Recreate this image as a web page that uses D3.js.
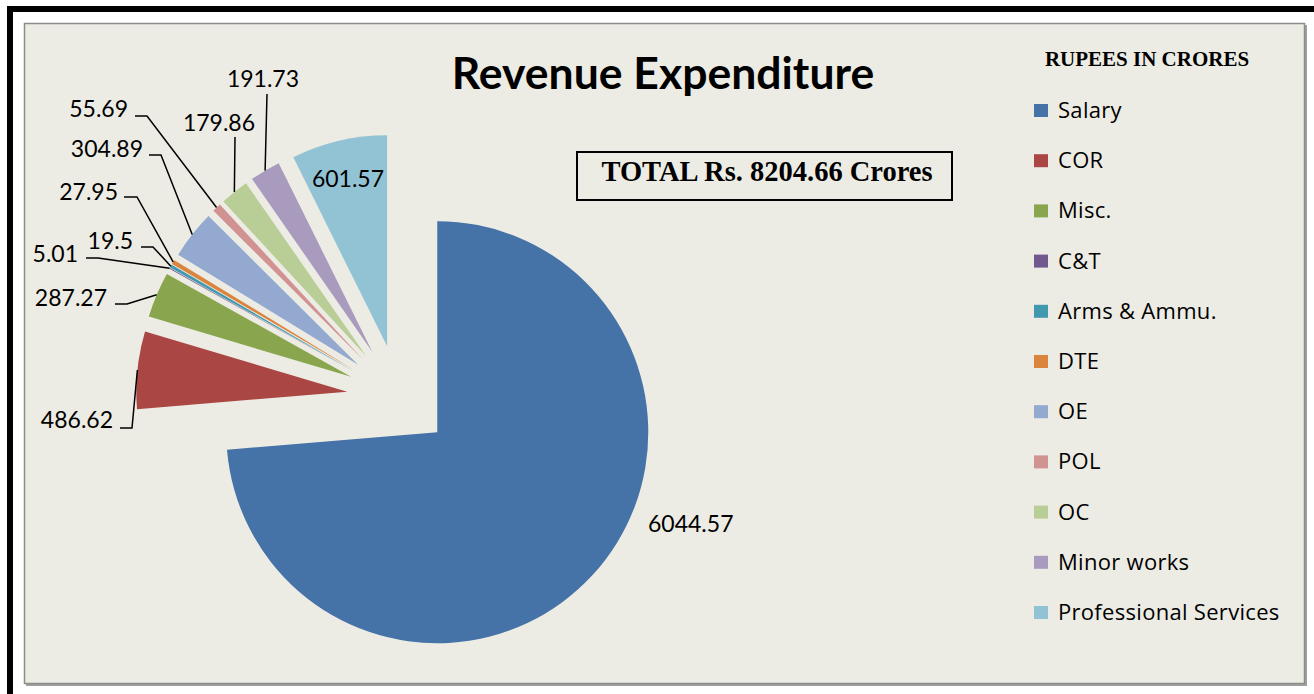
<!DOCTYPE html>
<html>
<head>
<meta charset="utf-8">
<script src="https://cdn.jsdelivr.net/npm/d3@7"></script>
<style>
  html, body { margin: 0; padding: 0; background: #ffffff; }
  svg { display: block; }
</style>
</head>
<body>
<svg id="chart" width="1314" height="694"></svg>
<script>
// ---- data ----
const categories = ["Salary", "COR", "Misc.", "C&T", "Arms & Ammu.", "DTE", "OE", "POL", "OC", "Minor works", "Professional Services"];
const values = [6044.57, 486.62, 287.27, 5.01, 19.5, 27.95, 304.89, 55.69, 179.86, 191.73, 601.57];
const colors = ["#4572A7", "#AA4643", "#89A54E", "#71588F", "#4198AF", "#DB843D", "#93A9CF", "#D19392", "#B9CD96", "#A99BBD", "#92C3D4"];
const titleText = "Revenue Expenditure";
const totalText = "TOTAL Rs. 8204.66 Crores";
const legendTitle = "RUPEES IN CRORES";

// ---- label layout (manual placement as in original) ----
const labelLayout = [
  { x: 648, y: 532, anchor: "start", leader: null },
  { x: 113, y: 428, anchor: "end", leader: [[120, 428], [132, 428]] },
  { x: 107, y: 306, anchor: "end", leader: [[115, 304], [127, 304]] },
  { x: 78,  y: 262, anchor: "end", leader: [[86, 258], [98, 258]] },
  { x: 133, y: 249, anchor: "end", leader: [[141, 247], [153, 247]] },
  { x: 118, y: 200, anchor: "end", leader: [[124, 197], [137, 197]] },
  { x: 143, y: 157, anchor: "end", leader: [[149, 155], [161, 155]] },
  { x: 128, y: 117, anchor: "end", leader: [[135, 116], [147, 116]] },
  { x: 219, y: 131, anchor: "middle", leader: [[235, 137]] },
  { x: 263, y: 87,  anchor: "middle", leader: [[267, 94]] },
  { x: 348, y: 187, anchor: "middle", leader: null }
];

const svg = d3.select("#chart");
const W = 1314, H = 694;

// outer frame
svg.append("rect").attr("x", 0).attr("y", 0).attr("width", W).attr("height", H).attr("fill", "#ffffff");
svg.append("rect").attr("x", 7).attr("y", 6).attr("width", W - 7).attr("height", 6).attr("fill", "#000");
svg.append("rect").attr("x", 7).attr("y", 6).attr("width", 6).attr("height", H - 6).attr("fill", "#000");

// chart panel with shadow
svg.append("rect").attr("x", 26).attr("y", 25).attr("width", 1281).attr("height", 661).attr("fill", "#a0a0a0");
svg.append("rect").attr("x", 24.5).attr("y", 23.5).attr("width", 1280).attr("height", 660)
  .attr("fill", "#EDECE4").attr("stroke", "#8c8c8c").attr("stroke-width", 1.5);

// pie
const cx = 399, cy = 397, R = 211, explode = 52;
const pie = d3.pie().sort(null).value(d => d)(values);
const arc = d3.arc().innerRadius(0).outerRadius(R);
const off = d => {
  const m = (d.startAngle + d.endAngle) / 2;
  return [explode * Math.sin(m), -explode * Math.cos(m)];
};
const edge = d => {
  const m = (d.startAngle + d.endAngle) / 2;
  const o = off(d);
  return [cx + o[0] + R * Math.sin(m), cy + o[1] - R * Math.cos(m)];
};

const g = svg.append("g").attr("transform", `translate(${cx},${cy})`);
g.selectAll("path.slice").data(pie).enter().append("path")
  .attr("class", "slice")
  .attr("transform", d => { const o = off(d); return `translate(${o[0]},${o[1]})`; })
  .attr("d", arc)
  .attr("fill", (d, i) => colors[i]);

// leader lines
const line = d3.line();
pie.forEach((d, i) => {
  const L = labelLayout[i];
  if (!L.leader) return;
  const pts = L.leader.concat([edge(d)]);
  svg.append("path").attr("d", line(pts)).attr("fill", "none")
    .attr("stroke", "#000").attr("stroke-width", 1.5);
});

// data labels
svg.selectAll("text.val").data(pie).enter().append("text")
  .attr("class", "val")
  .attr("x", (d, i) => labelLayout[i].x)
  .attr("y", (d, i) => labelLayout[i].y)
  .attr("text-anchor", (d, i) => labelLayout[i].anchor)
  .attr("font-family", "Lato, 'Open Sans', sans-serif")
  .attr("font-size", 23)
  .attr("fill", "#000")
  .text(d => String(d.data));

// title
svg.append("text").attr("x", 663).attr("y", 89).attr("text-anchor", "middle")
  .attr("font-family", "Lato, sans-serif").attr("font-weight", "bold").attr("font-size", 44.5)
  .attr("fill", "#000").text(titleText);

// total box
svg.append("rect").attr("x", 577).attr("y", 152).attr("width", 375).attr("height", 48)
  .attr("fill", "none").attr("stroke", "#000").attr("stroke-width", 2);
svg.append("text").attr("x", 767).attr("y", 181).attr("text-anchor", "middle")
  .attr("font-family", "'Liberation Serif', 'Times New Roman', serif").attr("font-weight", "bold").attr("font-size", 28.5)
  .attr("fill", "#000").text(totalText);

// legend
svg.append("text").attr("x", 1147).attr("y", 66).attr("text-anchor", "middle")
  .attr("font-family", "'Liberation Serif', 'Times New Roman', serif").attr("font-weight", "bold").attr("font-size", 21)
  .attr("fill", "#000").text(legendTitle);

const legendY = d3.scalePoint().domain(categories).range([118, 620]);
const lg = svg.selectAll("g.leg").data(categories).enter().append("g").attr("class", "leg")
  .attr("transform", d => `translate(0,${legendY(d)})`);
lg.append("rect").attr("x", 1034).attr("y", -14).attr("width", 14).attr("height", 13)
  .attr("fill", (d, i) => colors[i]);
lg.append("text").attr("x", 1058).attr("y", 0)
  .attr("font-family", "'Open Sans', Lato, sans-serif").attr("font-size", 22)
  .attr("letter-spacing", 0.3)
  .attr("fill", "#000").text(d => d);
</script>
</body>
</html>
